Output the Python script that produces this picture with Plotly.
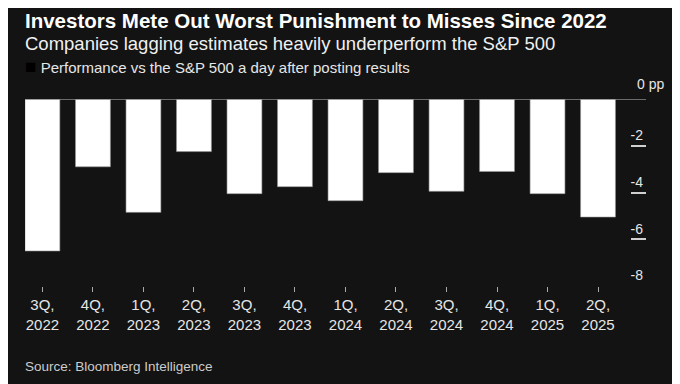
import plotly.graph_objects as go

categories = ["3Q,<br>2022", "4Q,<br>2022", "1Q,<br>2023", "2Q,<br>2023", "3Q,<br>2023", "4Q,<br>2023",
              "1Q,<br>2024", "2Q,<br>2024", "3Q,<br>2024", "4Q,<br>2024", "1Q,<br>2025", "2Q,<br>2025"]
performance = [-6.5, -2.9, -4.85, -2.25, -4.05, -3.75, -4.35, -3.15, -3.95, -3.1, -4.05, -5.05]
y_tickvals = [0, -2, -4, -6, -8]
y_ticktext = ["", "-2", "-4", "-6", "-8"]

BG = "#131313"
FONT = "Liberation Sans, Arial, sans-serif"

fig = go.Figure()
fig.add_trace(go.Bar(
    x=list(range(len(categories))), y=performance,
    marker=dict(color="#ffffff", line=dict(color="#9a9a9a", width=0.6)),
    showlegend=False,
))

fig.update_layout(
    width=680, height=384,
    paper_bgcolor=BG, plot_bgcolor=BG,
    margin=dict(l=17, r=42, t=91, b=106),
    bargap=0.31,
    font=dict(family=FONT, color="#e6e6e6", size=14),
    xaxis=dict(
        range=[-0.345, 11.95], automargin=False,
        tickvals=list(range(len(categories))), ticktext=categories,
        showgrid=False, zeroline=False, showline=False,
        ticks="outside", ticklen=5, tickwidth=1, tickcolor="#aaaaaa",
        tickfont=dict(size=15, color="#e6e6e6", family=FONT),
    ),
    yaxis=dict(
        range=[-8, 0], side="right", automargin=False,
        tickvals=y_tickvals, ticktext=y_ticktext,
        ticklabelposition="inside top",
        ticks="inside", ticklen=15, tickwidth=1.5, tickcolor="#d0d0d0",
        showgrid=False, zeroline=False, showline=False,
        tickfont=dict(size=14, color="#e6e6e6", family=FONT),
    ),
    shapes=[dict(type="line", xref="paper", yref="y", x0=0, x1=1, y0=0, y1=0,
                 line=dict(color="#8a8a8a", width=1.5), layer="above")],
)

fig.add_annotation(xref="paper", yref="y", x=1, y=0, xanchor="left", yanchor="bottom",
                   xshift=-11, yshift=5, text="0 pp", showarrow=False,
                   font=dict(size=14, color="#e6e6e6", family=FONT))

fig.add_annotation(xref="paper", yref="paper", x=0, y=1, xanchor="left", yanchor="middle",
                   xshift=-2, yshift=79, text="<b>Investors Mete Out Worst Punishment to Misses Since 2022</b>",
                   showarrow=False, font=dict(size=20.5, color="#ffffff", family=FONT))
fig.add_annotation(xref="paper", yref="paper", x=0, y=1, xanchor="left", yanchor="middle",
                   xshift=-2, yshift=56, text="Companies lagging estimates heavily underperform the S&P 500",
                   showarrow=False, font=dict(size=18.5, color="#f0f0f0", family=FONT))
fig.add_annotation(xref="paper", yref="paper", x=0, y=1, xanchor="left", yanchor="middle",
                   xshift=-2, yshift=33,
                   text="<span style='color:#000000;font-size:19px'>■</span> Performance vs the S&P 500 a day after posting results",
                   showarrow=False, font=dict(size=15, color="#e6e6e6", family=FONT))
fig.add_annotation(xref="paper", yref="paper", x=0, y=0, xanchor="left", yanchor="middle",
                   xshift=-2, yshift=-80, text="Source: Bloomberg Intelligence",
                   showarrow=False, font=dict(size=13.5, color="#cccccc", family=FONT))

fig.write_html("out.html")
